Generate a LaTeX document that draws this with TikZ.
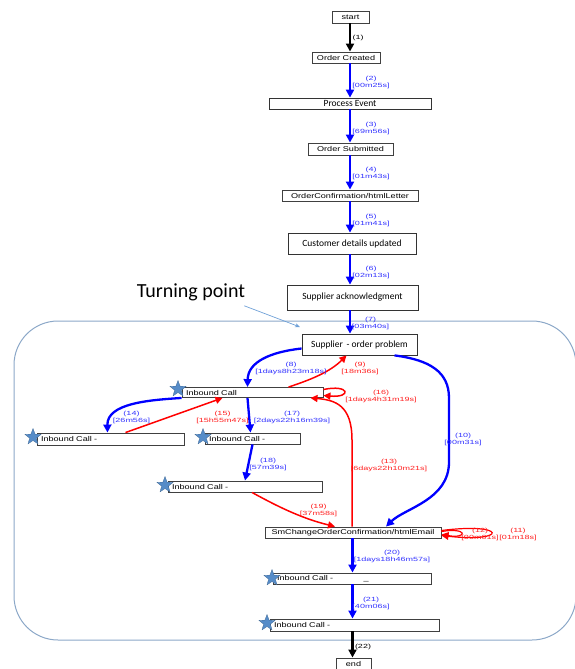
\documentclass[tikz,border=0pt]{standalone}
\usepackage{fontspec}
\setmainfont{Liberation Sans}
\newfontfamily\gvfont[FakeStretch=1.3]{Liberation Sans}
\newfontfamily\lbfont[FakeStretch=1.5]{Liberation Sans}
\newfontfamily\calfont{Carlito}
\usetikzlibrary{arrows.meta,shapes.geometric,calc}
\definecolor{eblue}{RGB}{0,0,255}
\definecolor{ered}{RGB}{255,0,0}
\definecolor{lblue}{RGB}{50,50,255}
\definecolor{lred}{RGB}{255,30,30}
\definecolor{framec}{RGB}{140,168,200}
\definecolor{starc}{RGB}{86,140,200}
\definecolor{tpc}{RGB}{110,160,215}
\tikzset{
  gvbox/.style={draw=black!75, line width=0.9pt, fill=white, inner sep=0pt, font=\gvfont\fontsize{7}{8}\selectfont},
  calbox/.style={draw=black!80, line width=0.8pt, fill=white, inner sep=0pt, font=\calfont\fontsize{9.5}{11}\selectfont},
  ibox/.style={gvbox, align=left, text width=#1},
  flowb/.style={draw=eblue, line width=2.3pt, -{Triangle[length=8pt,width=8pt]}},
  flowr/.style={draw=ered, line width=1.5pt, -{Triangle[length=7pt,width=7pt]}},
  flowk/.style={draw=black, line width=2.3pt, -{Triangle[length=8pt,width=8pt]}},
  lbl/.style={font=\lbfont\fontsize{6}{7}\selectfont, align=center, inner sep=0pt},
  lb/.style={lbl, text=lblue},
  lr/.style={lbl, text=lred},
  lk/.style={lbl, text=black},
  ministar/.style={star, star points=5, star point ratio=2.4, minimum size=17pt, inner sep=0pt, fill=starc, draw=starc!75!black, line width=0.3pt},
  framest/.style={draw=framec, line width=1pt, rounded corners=44pt},
  tparrow/.style={draw=tpc, line width=0.7pt, -{Stealth[length=5pt,width=4pt]}}
}
\begin{document}
\begin{tikzpicture}[x=1pt,y=-1pt]
\useasboundingbox (0,0) rectangle (574,669);
% cluster frame
\draw[framest] (14,321) rectangle (576,640);
% turning point
\node[font=\calfont\fontsize{20}{24}\selectfont, inner sep=0pt] (tp) at (191,292) {Turning point};
\coordinate (tpend) at (300,327);
\draw[tparrow] ([shift={(-1,5)}]tp.south east) -- (tpend);

% main nodes
\node[gvbox, minimum width=37, minimum height=12] (start) at (350.5,17) {start};
\node[gvbox, minimum width=68, minimum height=11] (oc) at (346,57.5) {Order Created};
\node[calbox, minimum width=162, minimum height=11] (pe) at (350,103.5) {Process Event};
\node[gvbox, minimum width=85, minimum height=12] (os) at (350.5,149) {Order Submitted};
\node[gvbox, minimum width=136, minimum height=11] (ocl) at (350,195.5) {OrderConfirmation/htmlLetter};
\node[calbox, minimum width=128, minimum height=21] (cdu) at (352,243.5) {Customer details updated};
\node[calbox, minimum width=131, minimum height=25] (sa) at (352.5,297.5) {Supplier acknowledgment};
\node[calbox, minimum width=115, minimum height=21] (sop) at (359.5,344.5) {Supplier \,- order problem};
\node[ibox=133, minimum width=141, minimum height=10] (ib1) at (252.5,392.5) {Inbound Call};
\node[ibox=139, minimum width=147, minimum height=12] (ibL) at (110.5,439) {Inbound Call -};
\node[ibox=87, minimum width=95, minimum height=11] (ib2) at (252.5,438.5) {Inbound Call -};
\node[ibox=146, minimum width=154, minimum height=11] (ib3) at (245,486.5) {Inbound Call -};
\node[gvbox, minimum width=176, minimum height=11] (smc) at (353,532.5) {SmChangeOrderConfirmation/htmlEmail};
\node[ibox=150, minimum width=158, minimum height=11] (ib4) at (352,578.5) {Inbound Call - \hspace{28pt}\_};
\node[ibox=161, minimum width=169, minimum height=12] (ib5) at (354.5,625) {Inbound Call -};
\node[gvbox, minimum width=35, minimum height=12] (end) at (353.5,664) {end};

% stars
\node[ministar] (s1) at (178,389) {};
\node[ministar] (s2) at (33,437) {};
\node[ministar] (s3) at (203,437) {};
\node[ministar] (s4) at (165,485) {};
\node[ministar] (s5) at (272,578) {};
\node[ministar] (s6) at (267,623) {};

\coordinate (sx) at (350,0);
\coordinate (sy) at (352.5,0);
% spine
\draw[flowk] (start.south -| sx) -- (oc.north -| sx);
\draw[flowb] (oc.south -| sx) -- (pe.north -| sx);
\draw[flowb] (pe.south -| sx) -- (os.north -| sx);
\draw[flowb] (os.south -| sx) -- (ocl.north -| sx);
\draw[flowb] (ocl.south -| sx) -- (cdu.north -| sx);
\draw[flowb] (cdu.south -| sx) -- (sa.north -| sx);
\draw[flowb] (sa.south -| sx) -- (sop.north -| sx);
% cluster edges
\draw[flowb] ([yshift=-4]sop.west) .. controls (270,352) and (248,362) .. ([xshift=-5]ib1.north);
\draw[flowr] ([xshift=36]ib1.north) .. controls (310,380) and (330,372) .. ([xshift=-13]sop.south);
\draw[flowr] ([yshift=3]ib1.east) .. controls (350,384) and (352,398) .. ([yshift=-3]ib1.east);
\draw[flowb] ([xshift=35]sop.south) .. controls (430,360) and (449,372) .. (449,398) -- (449,462) .. controls (449,500) and (405,508) .. ([xshift=33]smc.north);
\draw[flowr] ([xshift=-1]smc.north) -- (352,440) .. controls (352,405) and (335,400) .. ([xshift=58]ib1.south);
\draw[flowb] (ib1.south west) .. controls (150,400) and (107,403) .. ([xshift=-3]ibL.north);
\draw[flowr] ([xshift=15]ibL.north) -- ([xshift=-30]ib1.south);
\draw[flowb] ([xshift=-5]ib1.south) -- ([xshift=-2]ib2.north);
\draw[flowb] (ib2.south) -- (ib3.north);
\draw[flowr] ([xshift=7]ib3.south) .. controls (275,505) and (300,518) .. ([xshift=-18]smc.north);
\draw[flowr, line width=1.2pt] ([yshift=2]smc.east) .. controls (508,522) and (508,543) .. ([yshift=-3]smc.east);
\draw[flowr, line width=1.2pt] ([yshift=1]smc.east) .. controls (468,527) and (468,539) .. ([yshift=-2]smc.east);
\draw[flowb] (smc.south -| sy) -- (ib4.north -| sy);
\draw[flowb] (ib4.south -| sy) -- (ib5.north -| sy);
\draw[flowk] (ib5.south -| sy) -- (end.north -| sy);

% labels
\node[lk] (l1) at (358,38) {(1)};
\node[lb] (l2) at (371,82) {(2)\\{}[00m25s]};
\node[lb] (l3) at (371,128) {(3)\\{}[69m56s]};
\node[lb] (l4) at (371,173.5) {(4)\\{}[01m43s]};
\node[lb] (l5) at (371,220.5) {(5)\\{}[01m41s]};
\node[lb] (l6) at (371,272) {(6)\\{}[02m13s]};
\node[lb] (l7) at (370.5,323.5) {(7)\\{}[03m40s]};
\node[lb] (l8) at (291,368.5) {(8)\\{}[1days8h23m18s]};
\node[lr] (l9) at (360,368.5) {(9)\\{}[18m36s]};
\node[lr] (l16) at (381,396) {(16)\\{}[1days4h31m19s]};
\node[lb] (l10) at (463,439.5) {(10)\\{}[00m31s]};
\node[lr] (l13) at (389,465) {(13)\\{}[6days22h10m21s]};
\node[lb] (l14) at (131.5,417) {(14)\\{}[26m56s]};
\node[lr] (l15) at (222.5,417) {(15)\\{}[15h55m47s]};
\node[lb] (l17) at (292,417) {(17)\\{}[2days22h16m39s]};
\node[lb] (l18) at (268,464.5) {(18)\\{}[57m39s]};
\node[lr] (l19) at (318.5,510.5) {(19)\\{}[37m58s]};
\node[lr] (l12) at (480,534) {(12)\\{}[00m01s]};
\node[lr] (l11) at (518,534) {(11)\\{}[01m18s]};
\node[lb] (l20) at (392,556.5) {(20)\\{}[1days18h46m57s]};
\node[lb] (l21) at (371,603) {(21)\\{}[40m06s]};
\node[lk] (l22) at (363,647) {(22)};
\end{tikzpicture}
\end{document}
